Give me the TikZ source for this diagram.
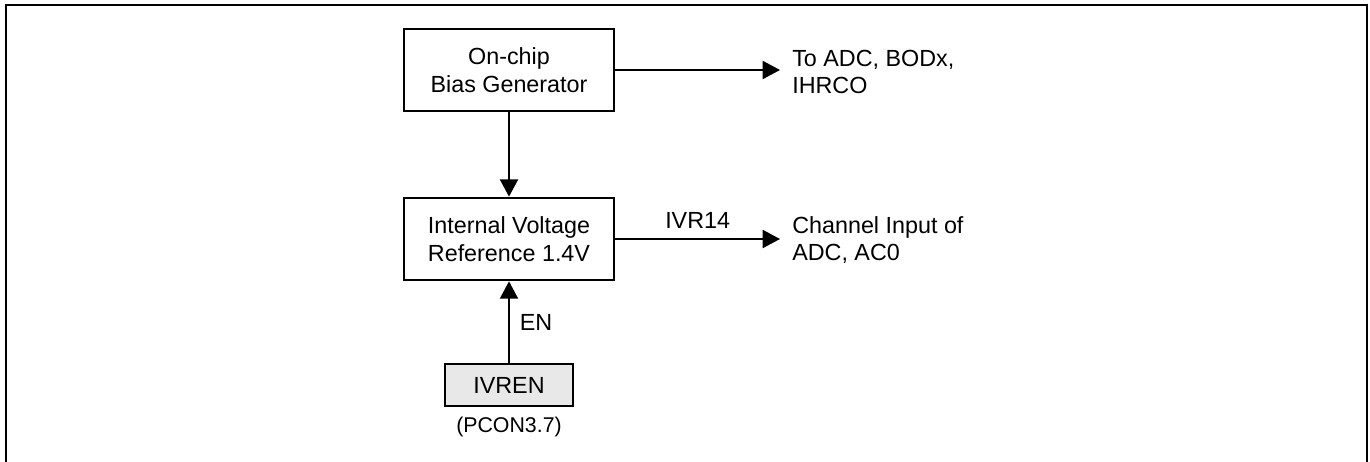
\documentclass[tikz,border=0pt]{standalone}
\usepackage{fontspec}
\setmainfont{Liberation Sans}
\usetikzlibrary{arrows.meta, positioning}

\begin{document}
\begin{tikzpicture}[x=0.75pt, y=-0.75pt,
    every node/.style={font=\fontsize{17.5}{20.6}\selectfont},
    blockbox/.style={draw, line width=1.5pt, minimum width=158pt, minimum height=62pt, align=center, inner sep=0pt},
    regbox/.style={draw, line width=1.5pt, fill=black!9, minimum width=96pt, minimum height=31.5pt, inner sep=0pt},
    sigarrow/.style={line width=1.5pt, -{Triangle[length=13pt, width=13.5pt]}},
    sidetext/.style={anchor=west, align=left, inner xsep=9pt, inner ysep=0pt}]
    \useasboundingbox (0,0) rectangle (1370,461);
    % Frame
    \draw[line width=1.5pt] (6,470) -- (6,5) -- (1367,5) -- (1367,470);

    % Boxes
    \node[blockbox] (bias) at (509,70) {On-chip\\Bias Generator};
    \node[blockbox] (vref) at (509,239) {Internal Voltage\\Reference 1.4V};
    \node[regbox] (ivren) at (509,385) {IVREN};
    \node[font=\fontsize{16}{19}\selectfont] (pcon) at (509,427) {(PCON3.7)};

    % Labels
    \node[sidetext] (toadc) at (780,72) {To ADC, BODx,\\IHRCO};
    \node[sidetext] (chan) at (780,240) {Channel Input of\\ADC, AC0};

    % Arrows
    \draw[sigarrow] (bias) -- (vref);
    \draw[sigarrow] (bias.east) -- (bias.east -| toadc.west);
    \draw[sigarrow] (vref.east) -- node[above=4pt] {IVR14} (vref.east -| chan.west);
    \draw[sigarrow] (ivren) -- node[right=4pt] {EN} (vref);
\end{tikzpicture}
\end{document}
